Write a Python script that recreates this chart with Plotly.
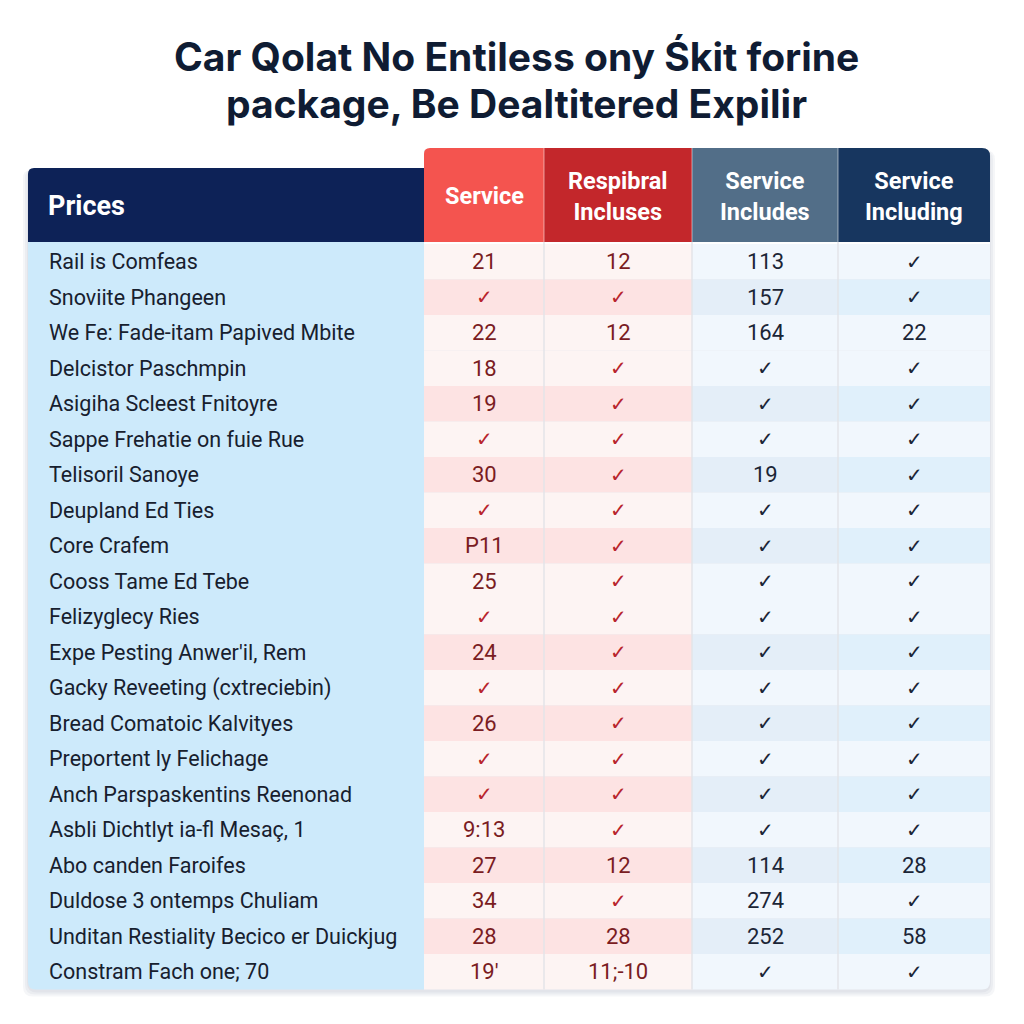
import plotly.graph_objects as go

# ---------------- data ----------------
title_lines = ["Car Qolat No Entiless ony Śkit forine", "package, Be Dealtitered Expilir"]
label_header = "Prices"
col_headers = ["Service", "Respibral<br>Incluses", "Service<br>Includes", "Service<br>Including"]
row_labels = [
    "Rail is Comfeas", "Snoviite Phangeen", "We Fe: Fade-itam Papived Mbite",
    "Delcistor Paschmpin", "Asigiha Scleest Fnitoyre", "Sappe Frehatie on fuie Rue",
    "Telisoril Sanoye", "Deupland Ed Ties", "Core Crafem", "Cooss Tame Ed Tebe",
    "Felizyglecy Ries", "Expe Pesting Anwer'il, Rem", "Gacky Reveeting (cxtreciebin)",
    "Bread Comatoic Kalvityes", "Preportent ly Felichage", "Anch Parspaskentins Reenonad",
    "Asbli Dichtlyt ia-fl Mesaç, 1", "Abo canden Faroifes", "Duldose 3 ontemps Chuliam",
    "Unditan Restiality Becico er Duickjug", "Constram Fach one; 70",
]
C = "✓"
col_service = ["21", C, "22", "18", "19", C, "30", C, "P11", "25", C, "24", C, "26", C, C, "9:13", "27", "34", "28", "19'"]
col_respibral = ["12", C, "12", C, C, C, C, C, C, C, C, C, C, C, C, C, C, "12", C, "28", "11;-10"]
col_includes = ["113", "157", "164", C, C, C, "19", C, C, C, C, C, C, C, C, C, C, "114", "274", "252", C]
col_including = [C, C, "22", C, C, C, C, C, C, C, C, C, C, C, C, C, C, "28", C, "58", C]
shaded_rows = [1, 4, 6, 8, 11, 13, 15, 17, 19]

columns = [col_service, col_respibral, col_includes, col_including]

# ---------------- layout geometry ----------------
W = H = 1024
OFF = 8  # page body margin
left_x0, left_x1 = 28, 424
col_edges = [424, 544, 692, 838, 990]
hdr_top_vals, hdr_top_left, hdr_bot = 148, 168, 242
row_top = 244
row_h = 35.5
n = len(row_labels)
table_bot = row_top + n * row_h

hdr_colors = ["#f4544f", "#c3272b", "#526e88", "#17365f"]
light_cols = ["#fdf4f3", "#fdf4f3", "#f1f7fd", "#f1f7fd"]
shade_cols = ["#fde3e3", "#fde3e3", "#e4eef8", "#e0f0fb"]
text_cols = ["#7a1c22", "#7a1c22", "#1b2536", "#1b2536"]
check_cols = ["#b8242c", "#b8242c", "#1b2536", "#1b2536"]


def rrect(x0, y0, x1, y1, rtl=0, rtr=0, rbr=0, rbl=0):
    p = f"M {x0+rtl},{y0} L {x1-rtr},{y0} "
    p += f"Q {x1},{y0} {x1},{y0+rtr} " if rtr else ""
    p += f"L {x1},{y1-rbr} "
    p += f"Q {x1},{y1} {x1-rbr},{y1} " if rbr else ""
    p += f"L {x0+rbl},{y1} "
    p += f"Q {x0},{y1} {x0},{y1-rbl} " if rbl else ""
    p += f"L {x0},{y0+rtl} "
    p += f"Q {x0},{y0} {x0+rtl},{y0} " if rtl else ""
    return p + "Z"


shapes = []
# soft shadow (left part and value part, non-overlapping)
for i in range(3):
    d = 1 + i * 2
    shapes.append(dict(type="path", xref="x", yref="y",
                       path=rrect(left_x0 - d, hdr_top_left + 2, left_x1, table_bot + d + 2, 8, 0, 0, 10),
                       fillcolor="rgba(60,80,110,0.05)", line=dict(width=0), layer="below"))
    shapes.append(dict(type="path", xref="x", yref="y",
                       path=rrect(left_x1, hdr_top_vals + 2, col_edges[-1] + d, table_bot + d + 2, 0, 10, 10, 0),
                       fillcolor="rgba(60,80,110,0.05)", line=dict(width=0), layer="below"))
# left column body
shapes.append(dict(type="path", xref="x", yref="y",
                   path=rrect(left_x0, hdr_bot, left_x1, table_bot, 0, 0, 0, 8),
                   fillcolor="#cdeafb", line=dict(width=0), layer="below"))
# left header
shapes.append(dict(type="path", xref="x", yref="y",
                   path=rrect(left_x0, hdr_top_left, left_x1, hdr_bot, 6, 0, 0, 0),
                   fillcolor="#0d2257", line=dict(width=0), layer="below"))
# value columns
for ci in range(4):
    x0, x1 = col_edges[ci], col_edges[ci + 1]
    rtr = 8 if ci == 3 else 0
    rtl = 6 if ci == 0 else 0
    shapes.append(dict(type="path", xref="x", yref="y",
                       path=rrect(x0, hdr_top_vals, x1, hdr_bot, rtl, rtr, 0, 0),
                       fillcolor=hdr_colors[ci], line=dict(width=0), layer="below"))
    for r in range(n):
        y0 = row_top + r * row_h
        y1 = y0 + row_h
        rbr = 8 if (ci == 3 and r == n - 1) else 0
        shapes.append(dict(type="path", xref="x", yref="y",
                           path=rrect(x0, y0, x1, y1, 0, 0, rbr, 0),
                           fillcolor=shade_cols[ci] if r in shaded_rows else light_cols[ci],
                           line=dict(width=0), layer="below"))
shapes.append(dict(type="line", xref="x", yref="y", x0=left_x1, x1=col_edges[-1], y0=hdr_bot + 1, y1=hdr_bot + 1,
                   line=dict(color="#ffffff", width=2), layer="below"))
# column separators
for x in col_edges[1:-1]:
    shapes.append(dict(type="line", xref="x", yref="y", x0=x, x1=x, y0=hdr_bot, y1=table_bot,
                       line=dict(color="#e3e5e8", width=1.5)))
    shapes.append(dict(type="line", xref="x", yref="y", x0=x, x1=x, y0=hdr_top_vals, y1=hdr_bot,
                       line=dict(color="rgba(255,255,255,0.35)", width=1.5)))

annotations = []
# title
for i, t in enumerate(title_lines):
    annotations.append(dict(x=516, y=56 + i * 47, xref="x", yref="y", text=f"<b>{t}</b>", showarrow=False,
                            font=dict(family="Inter, Roboto, sans-serif", size=39, color="#0f1c33"),
                            xanchor="center", yanchor="middle"))
# header texts
annotations.append(dict(x=46, y=206, xref="x", yref="y", text=f"<b>{label_header}</b>", showarrow=False,
                        font=dict(family="Roboto, sans-serif", size=27, color="#ffffff"),
                        xanchor="left", yanchor="middle"))
for ci, h in enumerate(col_headers):
    xc = (col_edges[ci] + col_edges[ci + 1]) / 2
    annotations.append(dict(x=xc, y=196, xref="x", yref="y", text=f"<b>{h}</b>", showarrow=False,
                            font=dict(family="Roboto, sans-serif", size=23.5, color="#ffffff"),
                            xanchor="center", yanchor="middle", align="center"))
# row labels
for r, lab in enumerate(row_labels):
    yc = row_top + r * row_h + row_h / 2
    annotations.append(dict(x=47, y=yc, xref="x", yref="y", text=lab, showarrow=False,
                            font=dict(family="Roboto, sans-serif", size=21.5, color="#17202e"),
                            xanchor="left", yanchor="middle"))
# cell values
for ci, col in enumerate(columns):
    xc = (col_edges[ci] + col_edges[ci + 1]) / 2
    for r, v in enumerate(col):
        yc = row_top + r * row_h + row_h / 2
        is_check = v == C
        annotations.append(dict(x=xc, y=yc, xref="x", yref="y", text=v, showarrow=False,
                                font=dict(family="DejaVu Sans, sans-serif" if is_check else "Roboto, sans-serif",
                                          size=20 if is_check else 22,
                                          color=check_cols[ci] if is_check else text_cols[ci]),
                                xanchor="center", yanchor="middle"))

fig = go.Figure()
fig.add_trace(go.Scatter(x=[OFF, W], y=[OFF, H], mode="markers", marker=dict(opacity=0), hoverinfo="skip", showlegend=False))
fig.update_layout(
    width=W, height=H, margin=dict(l=0, r=0, t=0, b=0),
    paper_bgcolor="#ffffff", plot_bgcolor="#ffffff",
    xaxis=dict(range=[OFF, W + OFF], visible=False, fixedrange=True),
    yaxis=dict(range=[H + OFF, OFF], visible=False, fixedrange=True),
    shapes=shapes, annotations=annotations, showlegend=False,
)
fig.write_html("out.html")
